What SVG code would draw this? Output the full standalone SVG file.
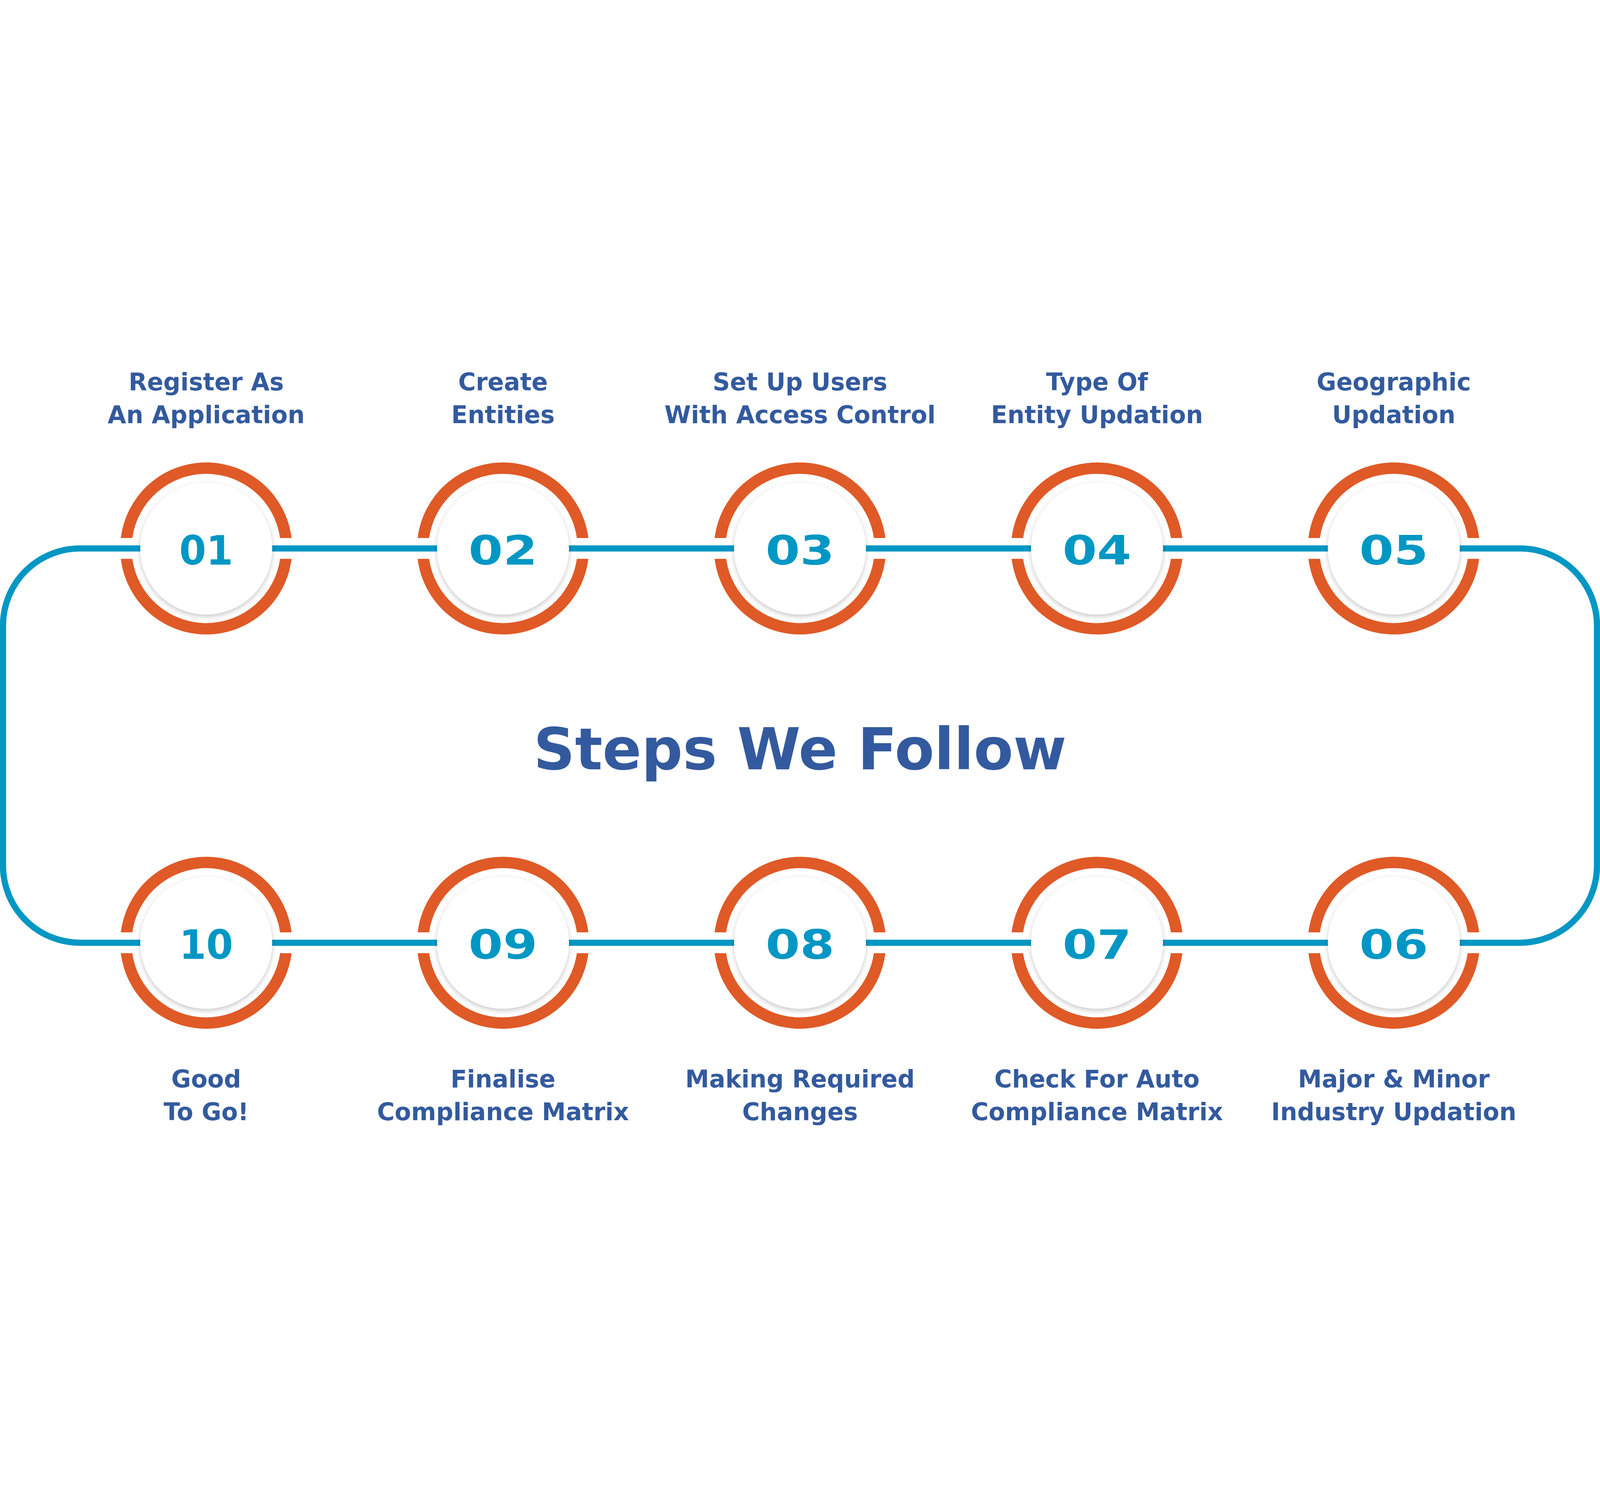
<svg xmlns="http://www.w3.org/2000/svg" xmlns:xlink="http://www.w3.org/1999/xlink" width="8000" height="3816" viewBox="0 0 8000 3816">
<style>
:root{width:100vw;height:100vh;display:block}
.lbl{font-family:"DejaVu Sans","Liberation Sans",sans-serif;font-weight:bold;font-size:120px;fill:#335A9E;text-anchor:middle}
.num{font-family:"DejaVu Sans","Liberation Sans",sans-serif;font-weight:bold;font-size:203px;fill:#0097C4;text-anchor:middle}
.title{font-family:"DejaVu Sans","Liberation Sans",sans-serif;font-weight:bold;font-size:288px;fill:#335A9E;text-anchor:middle}
.disc{fill:#FFFFFF;filter:url(#sh)}
.loop{fill:none;stroke:#0097C4;stroke-width:31}
</style>
<defs>
<filter id="sh" x="-20%" y="-20%" width="140%" height="140%">
<feDropShadow dx="0" dy="10" stdDeviation="12" flood-color="#000000" flood-opacity="0.22"/>
</filter>
<path id="ring" fill="#DF5A27" d="M -426.84 -52 A 430 430 0 0 1 426.84 -52 L 369.36 -52 A 373 373 0 0 0 -369.36 -52 Z M -426.84 52 A 430 430 0 0 0 426.84 52 L 369.36 52 A 373 373 0 0 1 -369.36 52 Z"/>
</defs>
<rect x="0" y="0" width="8000" height="3816" fill="#FFFFFF"/>
<g id="connectors">
<rect class="loop" x="15" y="923" width="7970" height="1971" rx="385" ry="385"/>
</g>
<g id="step-01">
<use href="#ring" xlink:href="#ring" x="1031" y="923"/>
<circle class="disc" cx="1031" cy="923" r="330"/>
<text class="num" x="1031" y="1003" textLength="270" lengthAdjust="spacingAndGlyphs">01</text>
<text class="lbl" x="1031" y="132">Register As</text>
<text class="lbl" x="1031" y="297">An Application</text>
</g>
<g id="step-02">
<use href="#ring" xlink:href="#ring" x="2515" y="923"/>
<circle class="disc" cx="2515" cy="923" r="330"/>
<text class="num" x="2515" y="1003" textLength="345" lengthAdjust="spacingAndGlyphs">02</text>
<text class="lbl" x="2515" y="132">Create</text>
<text class="lbl" x="2515" y="297">Entities</text>
</g>
<g id="step-03">
<use href="#ring" xlink:href="#ring" x="4000" y="923"/>
<circle class="disc" cx="4000" cy="923" r="330"/>
<text class="num" x="4000" y="1003" textLength="345" lengthAdjust="spacingAndGlyphs">03</text>
<text class="lbl" x="4000" y="132">Set Up Users</text>
<text class="lbl" x="4000" y="297">With Access Control</text>
</g>
<g id="step-04">
<use href="#ring" xlink:href="#ring" x="5485" y="923"/>
<circle class="disc" cx="5485" cy="923" r="330"/>
<text class="num" x="5485" y="1003" textLength="345" lengthAdjust="spacingAndGlyphs">04</text>
<text class="lbl" x="5485" y="132">Type Of</text>
<text class="lbl" x="5485" y="297">Entity Updation</text>
</g>
<g id="step-05">
<use href="#ring" xlink:href="#ring" x="6969" y="923"/>
<circle class="disc" cx="6969" cy="923" r="330"/>
<text class="num" x="6969" y="1003" textLength="345" lengthAdjust="spacingAndGlyphs">05</text>
<text class="lbl" x="6969" y="132">Geographic</text>
<text class="lbl" x="6969" y="297">Updation</text>
</g>
<g id="step-06">
<use href="#ring" xlink:href="#ring" x="6969" y="2894"/>
<circle class="disc" cx="6969" cy="2894" r="330"/>
<text class="num" x="6969" y="2974" textLength="345" lengthAdjust="spacingAndGlyphs">06</text>
<text class="lbl" x="6969" y="3617">Major &amp; Minor</text>
<text class="lbl" x="6969" y="3782">Industry Updation</text>
</g>
<g id="step-07">
<use href="#ring" xlink:href="#ring" x="5485" y="2894"/>
<circle class="disc" cx="5485" cy="2894" r="330"/>
<text class="num" x="5485" y="2974" textLength="345" lengthAdjust="spacingAndGlyphs">07</text>
<text class="lbl" x="5485" y="3617">Check For Auto</text>
<text class="lbl" x="5485" y="3782">Compliance Matrix</text>
</g>
<g id="step-08">
<use href="#ring" xlink:href="#ring" x="4000" y="2894"/>
<circle class="disc" cx="4000" cy="2894" r="330"/>
<text class="num" x="4000" y="2974" textLength="345" lengthAdjust="spacingAndGlyphs">08</text>
<text class="lbl" x="4000" y="3617">Making Required</text>
<text class="lbl" x="4000" y="3782">Changes</text>
</g>
<g id="step-09">
<use href="#ring" xlink:href="#ring" x="2515" y="2894"/>
<circle class="disc" cx="2515" cy="2894" r="330"/>
<text class="num" x="2515" y="2974" textLength="345" lengthAdjust="spacingAndGlyphs">09</text>
<text class="lbl" x="2515" y="3617">Finalise</text>
<text class="lbl" x="2515" y="3782">Compliance Matrix</text>
</g>
<g id="step-10">
<use href="#ring" xlink:href="#ring" x="1031" y="2894"/>
<circle class="disc" cx="1031" cy="2894" r="330"/>
<text class="num" x="1031" y="2974" textLength="270" lengthAdjust="spacingAndGlyphs">10</text>
<text class="lbl" x="1031" y="3617">Good</text>
<text class="lbl" x="1031" y="3782">To Go!</text>
</g>
<g id="title">
<text class="title" x="4000" y="2028">Steps We Follow</text>
</g>
</svg>
